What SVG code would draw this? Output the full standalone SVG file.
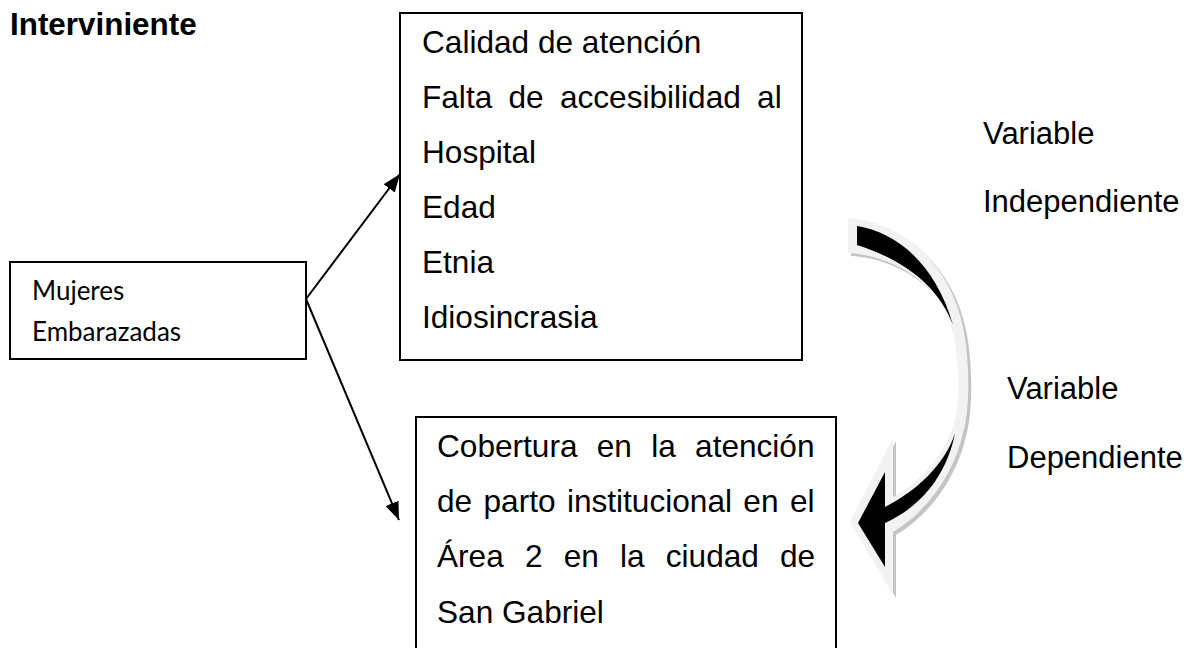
<svg xmlns="http://www.w3.org/2000/svg" width="1191" height="648" viewBox="0 0 1191 648">
<defs>
<style>
.box{fill:#fff;stroke:#000;stroke-width:2}
.t{font-family:"Liberation Sans",Arial,sans-serif;font-size:31.6px;fill:#000}
.r{font-family:"Liberation Sans",Arial,sans-serif;font-size:31px;fill:#000}
.b{font-weight:bold;font-size:31.4px}
.c{font-family:Lato,"Open Sans",sans-serif;font-size:26px;fill:#000}
.conn{stroke:#000;stroke-width:2;fill:none}
</style>
<marker id="ah" markerUnits="userSpaceOnUse" markerWidth="20" markerHeight="16" viewBox="0 0 20 16" refX="18" refY="8" orient="auto">
<path d="M0,1 L18,8 L0,15 Z" fill="#000"/>
</marker>
</defs>
<rect width="1191" height="648" fill="#fff"/>

<g id="label-interviniente">
<text class="t b" x="10" y="35">Interviniente</text>
</g>

<g id="node-mujeres">
<rect class="box" x="10" y="262" width="296" height="97"/>
<text class="c" x="32" y="300">Mujeres</text>
<text class="c" x="32" y="341">Embarazadas</text>
</g>

<g id="node-intervinientes">
<rect class="box" x="400" y="13" width="402" height="347"/>
<text class="t" x="422" y="53">Calidad de atención</text>
<text class="t" x="422" y="108" word-spacing="7.5">Falta de accesibilidad al</text>
<text class="t" x="422" y="163">Hospital</text>
<text class="t" x="422" y="218">Edad</text>
<text class="t" x="422" y="273">Etnia</text>
<text class="t" x="422" y="328">Idiosincrasia</text>
</g>

<g id="node-cobertura">
<rect class="box" x="416" y="417" width="420" height="250"/>
<text class="t" x="437" y="457" word-spacing="10.5">Cobertura en la atención</text>
<text class="t" x="437" y="512" word-spacing="2.6">de parto institucional en el</text>
<text class="t" x="437" y="567" word-spacing="12.4">Área 2 en la ciudad de</text>
<text class="t" x="437" y="623">San Gabriel</text>
</g>

<g id="connectors">
<line class="conn" x1="306" y1="299" x2="400" y2="174" marker-end="url(#ah)"/>
<line class="conn" x1="306" y1="299" x2="399" y2="520" marker-end="url(#ah)"/>
</g>

<g id="curved-arrow">
<path transform="translate(3,3)" fill="#c4c4c4" d="M848,218 C905,222 950,265 963,327 C970,360 970,410 963,433 C955,470 930,510 893,532 L893,595 L850,522 L893,438 L893,497 C925,480 955,445 958,400 C960,360 955,320 935,295 C915,272 885,256 850,253 L848,253 Z"/>
<path fill="#f2f2f2" d="M848,218 C905,222 950,265 963,327 C970,360 970,410 963,433 C955,470 930,510 893,532 L893,595 L850,522 L893,438 L893,497 C925,480 955,445 958,400 C960,360 955,320 935,295 C915,272 885,256 850,253 L848,253 Z"/>
<path fill="#000" d="M857,226 C895,232 935,262 953,325 C940,290 910,262 857,245 Z"/>
<path fill="#000" d="M858,523 L885,472 L885,507 C915,492 945,465 955,433 C948,470 925,505 885,523 L885,567 Z"/>
</g>

<g id="label-independiente">
<text class="r" x="983" y="144">Variable</text>
<text class="r" x="983" y="212">Independiente</text>
</g>

<g id="label-dependiente">
<text class="r" x="1007" y="399">Variable</text>
<text class="r" x="1007" y="468">Dependiente</text>
</g>
</svg>
